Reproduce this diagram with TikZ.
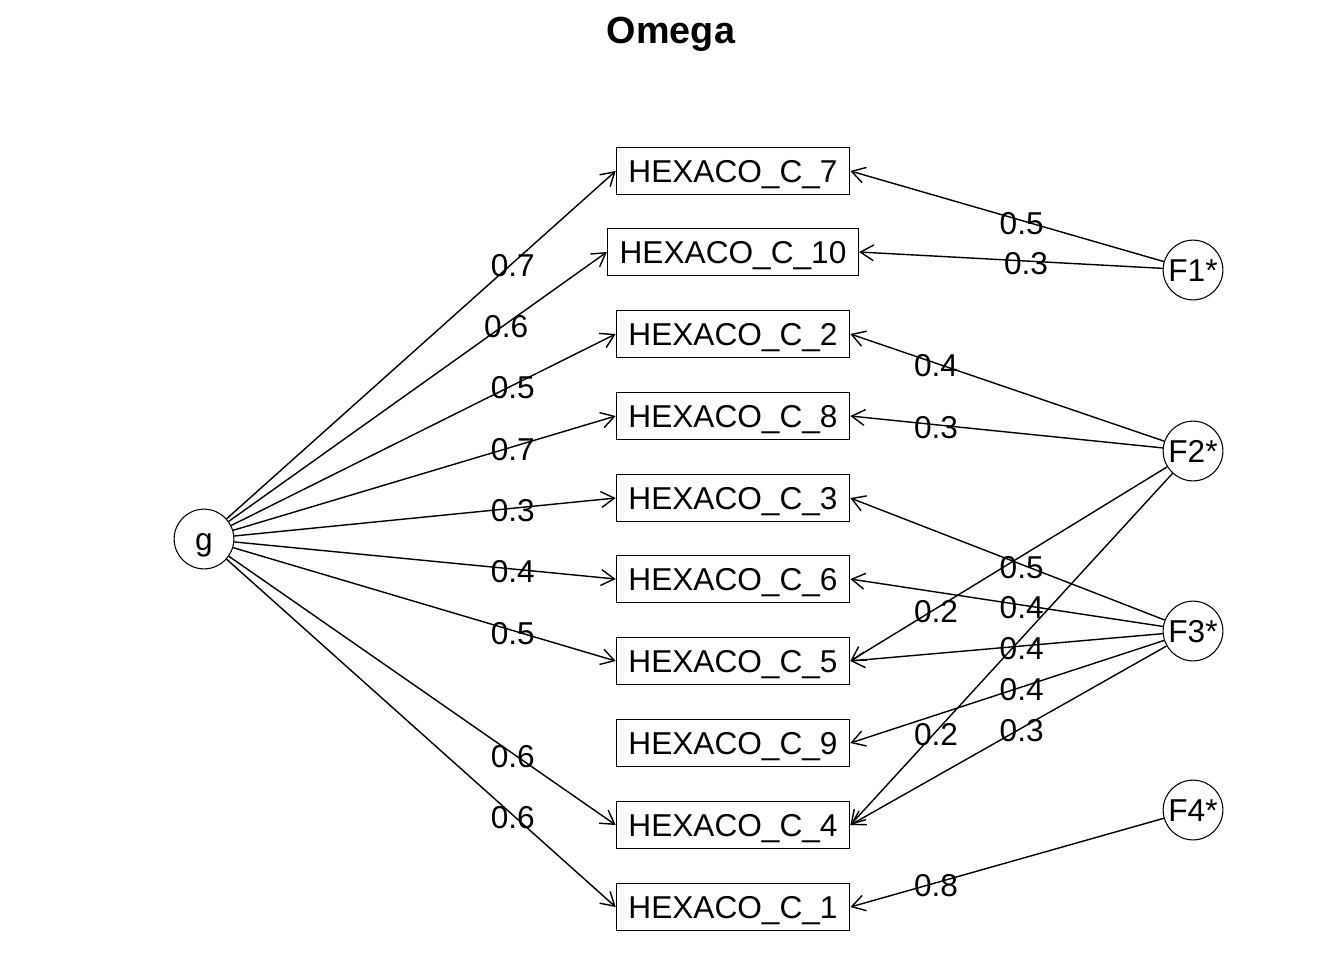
\documentclass[tikz,border=0pt]{standalone}
\usepackage{fontspec}
\setmainfont{Liberation Sans}
\usetikzlibrary{calc,arrows.meta}
\begin{document}
\begin{tikzpicture}[x=0.02cm,y=-0.02cm,
  every node/.style={font=\fontsize{18}{20}\selectfont,text height=13pt,text depth=0pt},
  item/.style={draw,line width=0.9pt,rectangle,minimum height=26.6pt,inner xsep=6.8pt,inner ysep=0pt},
  factor/.style={draw,line width=0.6pt,circle,minimum size=34pt,inner sep=0pt},
  arr/.style={line width=0.8pt,-{Straight Barb[length=7.5pt,width=9pt]}},
  lbl/.style={inner sep=0pt,yshift=-1.3pt}]
\useasboundingbox (0,0) rectangle (1344,960);
\node[font=\fontsize{21.5}{24}\selectfont\bfseries,text height=15.5pt] (title) at (671,30) {Omega};

% general factor and group factors
\node[factor] (g) at (204,539) {g};
\node[factor] (F1) at (1193,270) {F1*};
\node[factor] (F2) at (1193,451) {F2*};
\node[factor] (F3) at (1193,631) {F3*};
\node[factor] (F4) at (1193,810) {F4*};

% observed items
\node[item] (c7)  at (733,171) {HEXACO\_C\_7};
\node[item] (c10) at (733,252) {HEXACO\_C\_10};
\node[item] (c2)  at (733,334) {HEXACO\_C\_2};
\node[item] (c8)  at (733,416) {HEXACO\_C\_8};
\node[item] (c3)  at (733,498) {HEXACO\_C\_3};
\node[item] (c6)  at (733,579) {HEXACO\_C\_6};
\node[item] (c5)  at (733,661) {HEXACO\_C\_5};
\node[item] (c9)  at (733,743) {HEXACO\_C\_9};
\node[item] (c4)  at (733,825) {HEXACO\_C\_4};
\node[item] (c1)  at (733,907) {HEXACO\_C\_1};

% loadings on g
\foreach \t/\v in {c7/0.7,c10/0.6,c2/0.5,c8/0.7,c3/0.3,c6/0.4,c5/0.5,c4/0.6,c1/0.6}{
  \draw[arr] (g) -- (\t.west);
  \node[lbl] at ($(g)!0.75!(\t.west)$) {\v};
}

% loadings on group factors
\foreach \f/\t/\v/\p in {F1/c7/0.5/0.5,F1/c10/0.3/0.5,
    F2/c2/0.4/0.75,F2/c8/0.3/0.75,F2/c5/0.2/0.75,F2/c4/0.2/0.75,
    F3/c3/0.5/0.5,F3/c6/0.4/0.5,F3/c5/0.4/0.5,F3/c9/0.4/0.5,F3/c4/0.3/0.5,
    F4/c1/0.8/0.75}{
  \draw[arr] (\f) -- (\t.east);
  \node[lbl] at ($(\f)!\p!(\t.east)$) {\v};
}
\end{tikzpicture}
\end{document}
